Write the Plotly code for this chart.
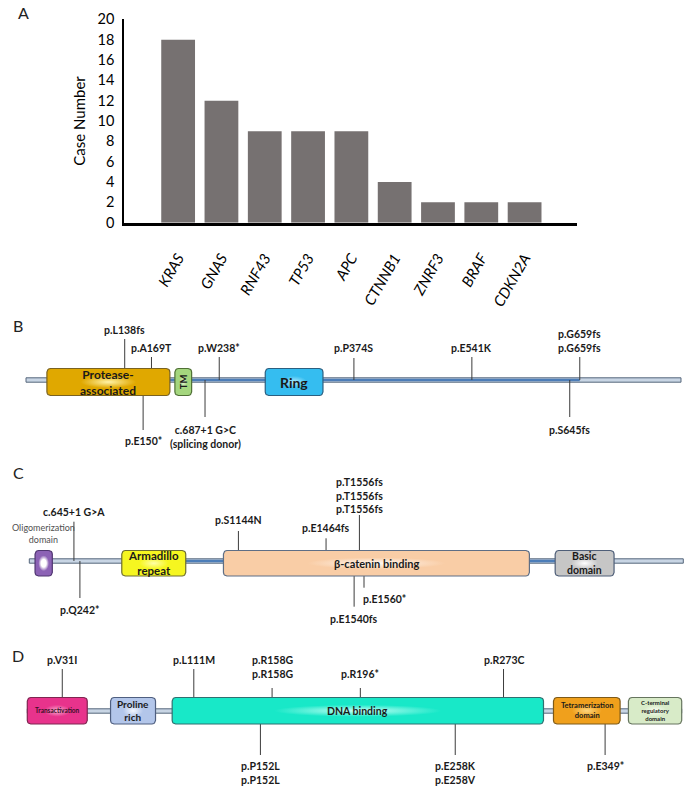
import math
import plotly.graph_objects as go

# ---------------- Panel A data ----------------
genes = ["KRAS", "GNAS", "RNF43", "TP53", "APC", "CTNNB1", "ZNRF3", "BRAF", "CDKN2A"]
case_numbers = [18, 12, 9, 9, 9, 4, 2, 2, 2]

# ---------------- Panel B: RNF43 (positions along drawn protein, residue scale) ----------------
rnf43_length = 783
rnf43_domains = ["Protease-<br>associated", "TM", "Ring"]
rnf43_dom_start = [25, 178, 286]
rnf43_dom_end = [172, 198, 355]
rnf43_muts = ["p.L138fs", "p.A169T", "p.W238*", "p.P374S", "p.E541K", "p.G659fs<br>p.G659fs",
              "p.E150*", "c.687+1 G>C<br>(splicing donor)", "p.S645fs"]
rnf43_mut_pos = [118, 150, 231, 392, 533, 662, 140, 214, 650]
rnf43_mut_side = ["up", "up", "up", "up", "up", "up", "down", "down", "down"]

# ---------------- Panel C: APC ----------------
apc_length = 2843
apc_domains = ["Oligomerization<br>domain", "Armadillo<br>repeat", "β-catenin binding", "Basic<br>domain"]
apc_dom_start = [25, 402, 844, 2286]
apc_dom_end = [100, 680, 2174, 2542]
apc_muts = ["c.645+1 G>A", "p.Q242*", "p.S1144N", "p.E1464fs", "p.T1556fs<br>p.T1556fs<br>p.T1556fs",
            "p.E1560*", "p.E1540fs"]
apc_mut_pos = [194, 220, 909, 1290, 1435, 1455, 1412]
apc_mut_side = ["up", "down", "up", "up", "up", "down", "down"]

# ---------------- Panel D: TP53 ----------------
tp53_length = 393
tp53_domains = ["Transactivation", "Proline<br>rich", "DNA binding", "Tetramerization<br>domain",
                "C-terminal<br>regulatory<br>domain"]
tp53_dom_start = [0, 50, 87, 316, 361]
tp53_dom_end = [36, 77, 310, 356, 393]
tp53_muts = ["p.V31I", "p.L111M", "p.R158G<br>p.R158G", "p.R196*", "p.R273C",
             "p.P152L<br>p.P152L", "p.E258K<br>p.E258V", "p.E349*"]
tp53_mut_pos = [21, 100, 147, 200, 286, 140, 257, 347]
tp53_mut_side = ["up", "up", "up", "up", "up", "down", "down", "down"]

# ---------------- Styling ----------------
W, H = 685, 787
FONT = "Lato"
TXT = "#1a1a1a"

panel_styles = [
    dict(name="B", length=rnf43_length, domains=rnf43_domains, ds=rnf43_dom_start, de=rnf43_dom_end,
         muts=rnf43_muts, pos=rnf43_mut_pos, side=rnf43_mut_side,
         px0=26, px1=681, base=380, top=368.5, bot=395.5,
         blue=[(172, 662)],
         stem=[339, 357, 357, 358, 357, 357, 430, 417, 417],
         lab=[330, 348, 348, 348.3, 348, 341.2, 440.7, 437, 430],
         xanch=["center"] * 9,
         dstyle=[
             dict(c="#FFF3A8", e="#E0A800", b="#7A6220", fs=12, col=TXT, w="bold", ang=0),
             dict(c="#E8F8D8", e="#A4D67E", b="#4F7035", fs=9.5, col=TXT, w="bold", ang=-90),
             dict(c="#B0EBFD", e="#35BDF0", b="#2B5F80", fs=14, col=TXT, w="bold", ang=0),
         ]),
    dict(name="C", length=apc_length, domains=apc_domains, ds=apc_dom_start, de=apc_dom_end,
         muts=apc_muts, pos=apc_mut_pos, side=apc_mut_side,
         px0=29.3, px1=683.3, base=561, top=550.5, bot=576,
         blue=[(680, 844), (2174, 2286)],
         stem=[521.7, 598, 531, 538.3, 515, 587.7, 606.7],
         lab=[511.7, 610, 520, 528.3, 495.5, 599, 619],
         xanch=["center", "center", "center", "center", "center", "left", "center"],
         dstyle=[
             dict(c="#FFFFFF", e="#8C62B5", b="#4F3570", fs=9, col="#505050", w="normal", ang=0,
                  outside=True, mid=0.3),
             dict(c="#FFFFA8", e="#F6F620", b="#6E6E30", fs=11.5, col=TXT, w="bold", ang=0),
             dict(c="#FFF8F2", e="#F9CDA6", b="#5E6E85", fs=11, col=TXT, w="bold", ang=0),
             dict(c="#FFFFFF", e="#C6C6C6", b="#4E5E78", fs=10.5, col=TXT, w="bold", ang=0),
         ]),
    dict(name="D", length=tp53_length, domains=tp53_domains, ds=tp53_dom_start, de=tp53_dom_end,
         muts=tp53_muts, pos=tp53_mut_pos, side=tp53_mut_side,
         px0=27.3, px1=681.7, base=711, top=697.5, bot=724,
         blue=[],
         stem=[669, 669, 688, 688, 669, 755, 755, 755],
         lab=[660, 660, 667, 674, 660, 773, 773, 766],
         xanch=["center"] * 8,
         dstyle=[
             dict(c="#F9B0D4", e="#E8338C", b="#7E2550", fs=6.5, col="#3a1025", w="bold", ang=0),
             dict(c="#F2F6FE", e="#B3C6EA", b="#4F5F80", fs=10, col=TXT, w="bold", ang=0),
             dict(c="#C8FFF6", e="#18E8C8", b="#2F7070", fs=10.5, col=TXT, w="bold", ang=0),
             dict(c="#FDD680", e="#F0A01C", b="#7E5A18", fs=7.5, col=TXT, w="bold", ang=0),
             dict(c="#F8FCF2", e="#D8EBC8", b="#66755E", fs=6, col=TXT, w="bold", ang=0),
         ]),
]

fig = go.Figure()

# ---------------- Panel A: bar chart ----------------
fig.add_trace(go.Bar(x=genes, y=case_numbers, marker=dict(color="#767171", line=dict(width=0)),
                     width=0.78, xaxis="x", yaxis="y", showlegend=False, hoverinfo="x+y"))

annotations = []
for letter, px, py, ya in [("A", 23, 1, "top"), ("B", 18, 325, "middle"), ("C", 18, 472, "middle"),
                           ("D", 18, 655, "middle")]:
    annotations.append(dict(text=letter, x=px / W, y=1 - py / H, xref="paper", yref="paper",
                            showarrow=False, xanchor="center", yanchor=ya,
                            font=dict(family=FONT, size=16, color="#222")))


def rrect(x0, x1, y0, y1, r, k):
    rx, ry = r / k, r
    xs, ys = [], []
    corners = [(x1 - rx, y0 + ry, -90), (x1 - rx, y1 - ry, 0), (x0 + rx, y1 - ry, 90), (x0 + rx, y0 + ry, 180)]
    for cx, cy, a0 in corners:
        for i in range(7):
            t = math.radians(a0 + 90 * i / 6)
            xs.append(cx + rx * math.cos(t))
            ys.append(cy + ry * math.sin(t))
    xs.append(xs[0])
    ys.append(ys[0])
    return xs, ys


layout_axes = {}
for idx, p in enumerate(panel_styles):
    n = idx + 2
    xa, ya = f"x{n}", f"y{n}"
    k = (p["px1"] - p["px0"]) / p["length"]
    xr = [-p["px0"] / k, (W - p["px0"]) / k]
    layout_axes[f"xaxis{n}"] = dict(domain=[0, 1], range=xr, visible=False, anchor=ya,
                                    fixedrange=True, automargin=False)
    layout_axes[f"yaxis{n}"] = dict(domain=[0, 1], range=[H, 0], visible=False, anchor=xa,
                                    fixedrange=True, automargin=False)
    base = p["base"]

    # backbone
    bx, by = rrect(0, p["length"], base - 2.2, base + 2.2, 0.01, k)
    fig.add_trace(go.Scatter(x=bx, y=by, mode="lines", fill="toself", fillcolor="#C8D5E4",
                             line=dict(color="#56677C", width=1), xaxis=xa, yaxis=ya,
                             showlegend=False, hoverinfo="skip"))
    for s, e in p["blue"]:
        fig.add_trace(go.Scatter(x=[s, e, e, s, s], y=[base - 1.3, base - 1.3, base + 1.3, base + 1.3, base - 1.3],
                                 mode="lines", fill="toself", fillcolor="#4C7DB8", line=dict(width=0),
                                 xaxis=xa, yaxis=ya, showlegend=False, hoverinfo="skip"))

    # mutation stems
    sx, sy = [], []
    for i, pos in enumerate(p["pos"]):
        inside = any(s <= pos <= e for s, e in zip(p["ds"], p["de"]))
        if p["side"][i] == "up":
            start = p["top"] if inside else base
        else:
            start = p["bot"] if inside else base
        sx += [pos, pos, None]
        sy += [start, p["stem"][i], None]
        xanch = p["xanch"][i]
        annotations.append(dict(text=p["muts"][i], x=pos, y=p["lab"][i], xref=xa, yref=ya,
                                showarrow=False, xanchor=xanch, yanchor="middle",
                                xshift=-3 if xanch == "left" else 0,
                                font=dict(family=FONT, size=10.5, color=TXT, weight="bold")))
    fig.add_trace(go.Scatter(x=sx, y=sy, mode="lines", line=dict(color="#3c3c3c", width=1),
                             xaxis=xa, yaxis=ya, showlegend=False, hoverinfo="skip"))

    # domains
    for j, name in enumerate(p["domains"]):
        st = p["dstyle"][j]
        x0, x1 = p["ds"][j], p["de"][j]
        dx, dy = rrect(x0, x1, p["top"], p["bot"], 3.5, k)
        mid = st.get("mid", 0.0)
        cs = [[0, st["c"]]] + ([[mid, st["c"]]] if mid else []) + [[mid + 0.45 * (1 - mid), st["e"]], [1, st["e"]]]
        fig.add_trace(go.Scatter(x=dx, y=dy, mode="lines", fill="toself",
                                 fillgradient=dict(type="radial", colorscale=cs),
                                 line=dict(color=st["b"], width=1.2), xaxis=xa, yaxis=ya,
                                 showlegend=False, hoverinfo="text", hovertext=name.replace("<br>", " ")))
        if st.get("outside"):
            annotations.append(dict(text=name, x=(x0 + x1) / 2, y=p["top"] - 4, xref=xa, yref=ya,
                                    showarrow=False, xanchor="center", yanchor="bottom",
                                    font=dict(family=FONT, size=st["fs"], color=st["col"], weight=st["w"])))
        else:
            annotations.append(dict(text=name, x=(x0 + x1) / 2, y=(p["top"] + p["bot"]) / 2, xref=xa, yref=ya,
                                    showarrow=False, xanchor="center", yanchor="middle", textangle=st["ang"],
                                    font=dict(family=FONT, size=st["fs"], color=st["col"], weight=st["w"])))

fig.update_layout(
    width=W, height=H,
    margin=dict(l=0, r=0, t=0, b=0, autoexpand=False),
    paper_bgcolor="white", plot_bgcolor="rgba(0,0,0,0)",
    showlegend=False,
    xaxis=dict(domain=[124 / W, 577 / W], range=[-1.25, 9.21], type="category",
               showline=True, linecolor="black", linewidth=2.5, ticks="", showgrid=False,
               tickangle=-60, ticklabelstandoff=18, automargin=False,
               tickfont=dict(family=FONT, size=15, style="italic", color="black"), anchor="y", fixedrange=True),
    yaxis=dict(domain=[1 - 222.7 / H, 1 - 19.3 / H], range=[0, 20], dtick=2, automargin=False,
               showline=True, linecolor="black", linewidth=1.5, ticks="", showgrid=False, zeroline=False,
               tickfont=dict(family=FONT, size=14.5, color="black"), ticklabelstandoff=5,
               title=dict(text="Case Number", font=dict(family=FONT, size=15, color="black"), standoff=8),
               anchor="x", fixedrange=True),
    annotations=annotations,
    **layout_axes,
)

fig.write_html("out.html", config={"displayModeBar": False},
               post_script="document.body.style.margin='0px';document.body.style.overflow='hidden';")
